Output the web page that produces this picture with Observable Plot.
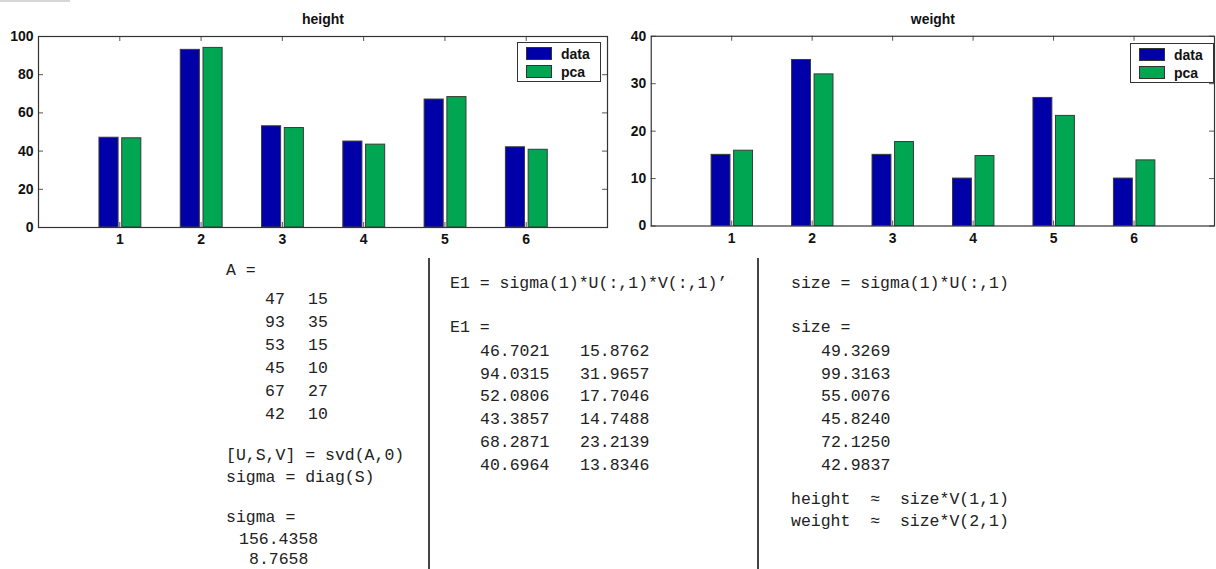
<!DOCTYPE html>
<html>
<head>
<meta charset="utf-8">
<script src="https://cdn.jsdelivr.net/npm/d3@7"></script>
<script src="https://cdn.jsdelivr.net/npm/@observablehq/plot@0.6"></script>
<style>
  html, body { margin: 0; padding: 0; background: #fff; }
  body { width: 1216px; height: 569px; overflow: hidden; position: relative; }
  .abs { position: absolute; }
  .legend { position: absolute; border: 1px solid #333; background: #fff; box-sizing: border-box; }
  .sw { position: absolute; width: 26px; height: 13px; box-sizing: border-box; border: 1px solid #333; }
  .lt { position: absolute; font: bold 14px "Liberation Sans", Arial, sans-serif; color: #111; line-height: 16px; }
  .code { position: absolute; font-family: "Liberation Mono", "DejaVu Sans Mono", monospace; font-size: 16.5px; line-height: 16px; color: #222; white-space: pre; }
  .div { position: absolute; width: 1.5px; background: #444; top: 258px; height: 311px; }
</style>
</head>
<body>
<div class="abs" style="left:0;top:0;width:70px;height:2px;background:#d6d6d6"></div>
<div id="c1" class="abs" style="left:0;top:0"></div>
<div id="c2" class="abs" style="left:610px;top:0"></div>
<div class="div" style="left:428px"></div>
<div class="div" style="left:757px"></div>
<script>
// ---- data ----
const categories = [1, 2, 3, 4, 5, 6];
const seriesNames = ["data", "pca"];
const seriesColors = ["#0000a8", "#00a651"];
const heightData = [47, 93, 53, 45, 67, 42];
const heightPca = [46.7021, 94.0315, 52.0806, 43.3857, 68.2871, 40.6964];
const weightData = [15, 35, 15, 10, 27, 10];
const weightPca = [15.8762, 31.9657, 17.7046, 14.7488, 23.2139, 13.8346];
const sizeValues = [49.3269, 99.3163, 55.0076, 45.8240, 72.1250, 42.9837];
const sigmaValues = [156.4358, 8.7658];
const heightTicks = [0, 20, 40, 60, 80, 100];
const weightTicks = [0, 10, 20, 30, 40];

function barChart({title, data, pca, ticks, marginLeft, marginRight, width}) {
  const H = 250, mt = 36, mb = 23;
  const plotW = width - marginLeft - marginRight, plotH = H - mt - mb;
  const rows = categories.flatMap((c, i) => [
    {series: "data", v: data[i], a: c - 0.25, b: c - 0.015},
    {series: "pca", v: pca[i], a: c + 0.03, b: c + 0.265}
  ]);
  return Plot.plot({
    width, height: H, marginLeft, marginRight, marginTop: mt, marginBottom: mb,
    x: {type: "linear", domain: [0, 7], label: null},
    y: {domain: [ticks[0], ticks[ticks.length - 1]], label: null},
    color: {domain: seriesNames, range: seriesColors},
    style: {fontFamily: '"Liberation Sans", Arial, sans-serif', fontSize: "14px", fontWeight: "bold", color: "#111", background: "transparent", overflow: "visible"},
    marks: [
      Plot.rectY(rows, {x1: "a", x2: "b", y1: 0, y2: "v", fill: "series", stroke: "#3a3a3a", strokeWidth: 1}),
      Plot.tickY(ticks, {y: d => d, insetRight: plotW - 5, stroke: "#555"}),
      Plot.tickY(ticks, {y: d => d, insetLeft: plotW - 5, stroke: "#555"}),
      Plot.tickX(categories, {x: d => d, insetBottom: plotH - 5, stroke: "#555"}),
      Plot.tickX(categories, {x: d => d, insetTop: plotH - 5, stroke: "#555"}),
      Plot.axisY(ticks, {tickSize: 0, tickPadding: 5, fontWeight: "bold", fontSize: 14, label: null}),
      Plot.axisX(categories, {tickSize: 0, tickPadding: 7, fontWeight: "bold", fontSize: 14, label: null}),
      Plot.frame({stroke: "#333", strokeWidth: 1.2}),
      Plot.text([title], {text: d => d, frameAnchor: "top", lineAnchor: "middle", dy: -17, fontWeight: "bold", fontSize: 14, fill: "#111"})
    ]
  });
}

document.getElementById("c1").append(barChart({title: "height", data: heightData, pca: heightPca, ticks: heightTicks, marginLeft: 38, marginRight: 3, width: 610}));
document.getElementById("c2").append(barChart({title: "weight", data: weightData, pca: weightPca, ticks: weightTicks, marginLeft: 41, marginRight: 2, width: 610}));

// legends
function legend(left, top) {
  const box = document.createElement("div");
  box.className = "legend";
  Object.assign(box.style, {left: left + "px", top: top + "px", width: "84px", height: "40px"});
  seriesNames.forEach((name, i) => {
    const sw = document.createElement("div");
    sw.className = "sw";
    Object.assign(sw.style, {left: "8px", top: (4 + i * 18) + "px", background: seriesColors[i]});
    box.append(sw);
    const t = document.createElement("div");
    t.className = "lt";
    Object.assign(t.style, {left: "43px", top: (3 + i * 18) + "px"});
    t.textContent = name;
    box.append(t);
  });
  document.body.append(box);
}
legend(517, 42);
legend(1130, 43);

// text panels
function line(x, yc, text) {
  const d = document.createElement("div");
  d.className = "code";
  d.style.left = x + "px";
  d.style.top = (yc - 8) + "px";
  d.textContent = text;
  document.body.append(d);
}
// panel 1
line(226, 271, "A =");
heightData.forEach((v, i) => { line(265, 300 + 23 * i, String(v)); line(308, 300 + 23 * i, String(weightData[i])); });
line(226, 456, "[U,S,V] = svd(A,0)");
line(226, 478, "sigma = diag(S)");
line(226, 518, "sigma =");
line(239, 540, sigmaValues[0].toFixed(4));
line(249, 560, sigmaValues[1].toFixed(4));
// panel 2
line(450, 284, "E1 = sigma(1)*U(:,1)*V(:,1)\u2019");
line(450, 328, "E1 =");
heightPca.forEach((v, i) => { line(480, 352 + 22.7 * i, v.toFixed(4)); line(580, 352 + 22.7 * i, weightPca[i].toFixed(4)); });
// panel 3
line(791, 284, "size = sigma(1)*U(:,1)");
line(791, 328, "size =");
sizeValues.forEach((v, i) => line(821, 352 + 22.7 * i, v.toFixed(4)));
line(791, 500, "height  \u2248  size*V(1,1)");
line(791, 522, "weight  \u2248  size*V(2,1)");
</script>
</body>
</html>
